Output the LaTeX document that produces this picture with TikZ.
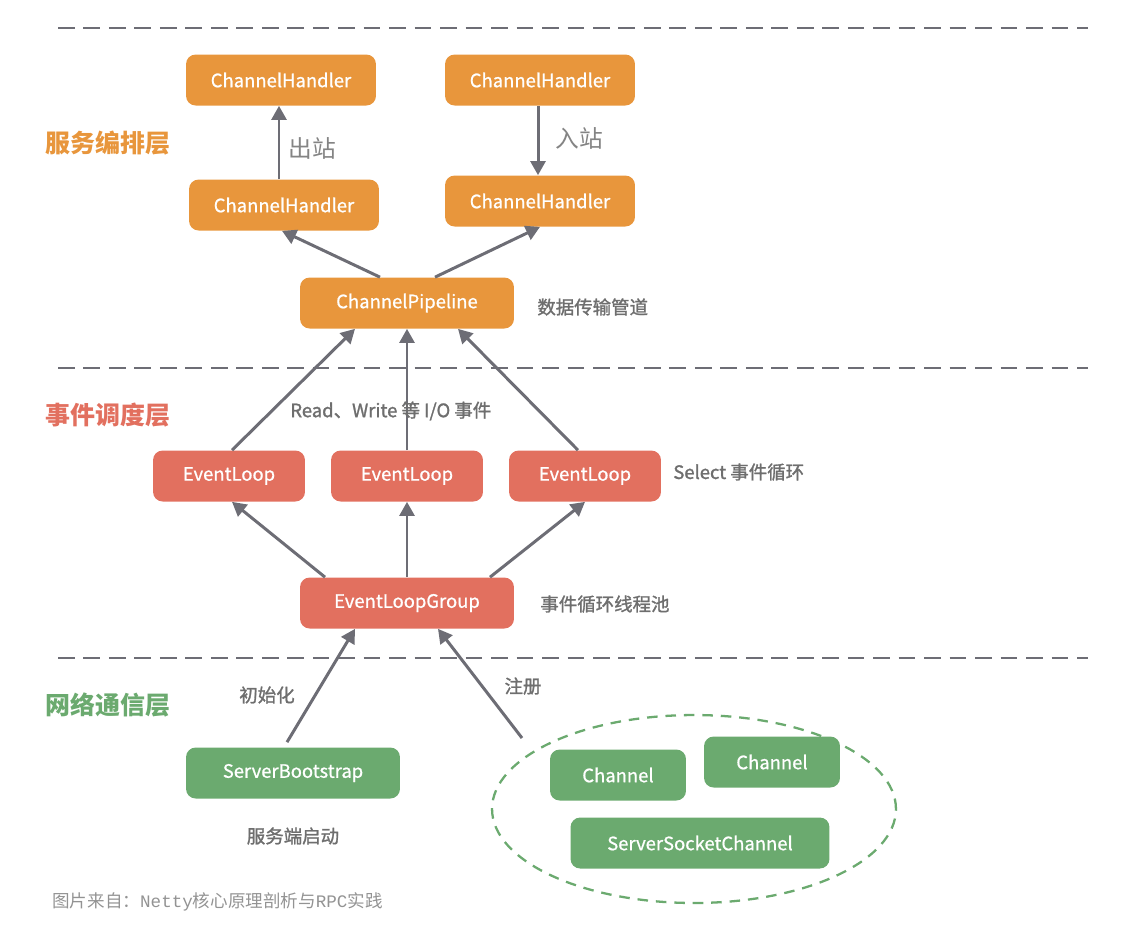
\documentclass[tikz,border=0pt]{standalone}
\usepackage{fontspec}
\setmainfont{Noto Sans CJK SC}
\newfontfamily\medfont{Noto Sans CJK SC}[FakeBold=0.8]
\newfontfamily\notefont{Noto Sans CJK SC}[FakeBold=1.4]
\newfontfamily\capmono{Liberation Mono}
\usetikzlibrary{arrows.meta,positioning,calc,shapes.geometric}
\definecolor{orng}{HTML}{E8963C}
\definecolor{redd}{HTML}{E2705F}
\definecolor{grn}{HTML}{6BAA6F}
\definecolor{arrgray}{HTML}{6D6D75}
\definecolor{txtgray}{HTML}{6E6E6E}
\tikzset{
  >={Triangle[length=8pt,width=8.5pt]},
  arr/.style={->,line width=1.7pt,draw=arrgray},
  sep/.style={line width=1.6pt,draw=arrgray,dash pattern=on 9.5pt off 5pt},
  % 角丸ボックス
  box/.style={rounded corners=5.5pt,minimum height=1.02cm,text=white,inner sep=0pt,
    font=\medfont\fontsize{10.5}{12}\selectfont},
  obox/.style={box,fill=orng,minimum width=3.8cm},
  rbox/.style={box,fill=redd,minimum width=3.04cm},
  gbox/.style={box,fill=grn,minimum width=4.28cm},
  % レイヤ名
  layer/.style={font=\fontsize{14.2}{16}\selectfont\bfseries},
  note/.style={text=txtgray,font=\notefont\fontsize{10.5}{12}\selectfont,inner sep=0pt},
  dirlbl/.style={text=txtgray!85,font=\fontsize{13.5}{15}\selectfont,inner sep=0pt}
}
\begin{document}
\begin{tikzpicture}[x=0.02cm,y=-0.02cm]
  \useasboundingbox (0,0) rectangle (1125,941);

  %--- layer separators
  \draw[sep] (58,28) -- (1088,28);
  \draw[sep] (58,368) -- (1088,368);
  \draw[sep] (58,658) -- (1088,658);

  %--- layer names
  \node[layer,text=orng] (lsvc) at (108,143) {服务编排层};
  \node[layer,text=redd] (levt) at (108,415) {事件调度层};
  \node[layer,text=grn]  (lnet) at (108,705) {网络通信层};

  %--- service layer
  \node[obox] (htl) at (281,80)  {ChannelHandler};
  \node[obox] (htr) at (540,80)  {ChannelHandler};
  \node[obox] (hml) at (284,205) {ChannelHandler};
  \node[obox] (hmr) at (540,201) {ChannelHandler};
  \node[obox,minimum width=4.28cm] (pipe) at (407,303) {ChannelPipeline};

  \draw[arr] ($(hml.north)+(-5,0)$) -- ($(htl.south)+(-2,0)$);
  \draw[arr] ($(htr.south)+(-2,0)$) -- ($(hmr.north)+(-2,0)$);
  \draw[arr] ($(pipe.north)+(-27,0)$) -- ($(hml.south)+(-2,0)$);
  \draw[arr] ($(pipe.north)+(28,0)$) -- ($(hmr.south)+(0,0)$);

  \node[dirlbl,anchor=west] (outb) at (288,148) {出站};
  \node[dirlbl,anchor=west] (inb)  at (555,138) {入站};
  \node[note,anchor=west] (npipe) at (537,307) {数据传输管道};

  %--- event layer
  \node[rbox] (el1) at (229,476) {EventLoop};
  \node[rbox] (el2) at (407,476) {EventLoop};
  \node[rbox] (el3) at (585,476) {EventLoop};
  \node[rbox,minimum width=4.28cm] (elg) at (407,603) {EventLoopGroup};

  \draw[arr] ($(el1.north)+(3,0)$)  -- ($(pipe.south)+(-52,0)$);
  \draw[arr] (el2.north) -- (pipe.south);
  \draw[arr] ($(el3.north)+(-7,0)$) -- ($(pipe.south)+(51,0)$);
  \draw[arr] ($(elg.north)+(-82,0)$) -- ($(el1.south)+(3,0)$);
  \draw[arr] (elg.north) -- (el2.south);
  \draw[arr] ($(elg.north)+(83,0)$) -- ($(el3.south)+(0,0)$);

  \node[note,anchor=west] (nio)  at (290,411) {Read、Write 等 I/O 事件};
  \node[note,anchor=west] (nsel) at (673,472) {Select 事件循环};
  \node[note,anchor=west] (nelg) at (540,604) {事件循环线程池};

  %--- network layer
  \node[gbox] (boot) at (293,773) {ServerBootstrap};
  \node[draw=grn,line width=1.3pt,dash pattern=on 6pt off 4.5pt,ellipse,
        minimum width=8.08cm,minimum height=3.76cm] (grp) at (694,809) {};
  \node[gbox,minimum width=2.72cm] (ch1) at (618,775) {Channel};
  \node[gbox,minimum width=2.72cm] (ch2) at (772,762) {Channel};
  \node[gbox,minimum width=5.18cm] (ssc) at (700,843) {ServerSocketChannel};
  \coordinate (reg) at (522,738);

  \draw[arr] ($(boot.north)+(-6,-5)$) -- ($(elg.south)+(-52,0)$);
  \draw[arr] (reg) -- ($(elg.south)+(31,0)$);

  \node[note] (ninit) at (267,695) {初始化};
  \node[note] (nreg)  at (523,686) {注册};
  \node[note] (nboot) at (293,836) {服务端启动};

  %--- caption
  \node[anchor=west,inner sep=0pt,text=gray!85,font=\fontsize{10}{12}\selectfont]
    (cap) at (52,902) {图片来自：{\capmono Netty}核心原理剖析与{\capmono RPC}实践};
\end{tikzpicture}
\end{document}
